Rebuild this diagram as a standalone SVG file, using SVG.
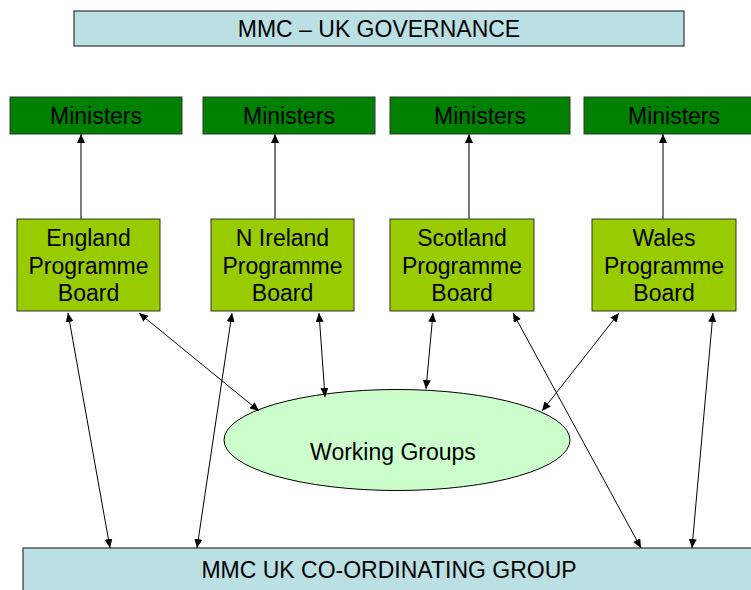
<svg xmlns="http://www.w3.org/2000/svg" width="751" height="590" viewBox="0 0 751 590">
  <style>
    .lbl { font-family: "Liberation Sans", Arial, sans-serif; font-size: 23px; fill: #000; text-anchor: middle; }
    .gov { fill: #BBE0E3; stroke: #333; stroke-width: 1.2; }
    .min { fill: #008000; stroke: #333; stroke-width: 1; }
    .board { fill: #99CC00; stroke: #333; stroke-width: 1; }
    .wg { fill: #CCFFCC; stroke: #000; stroke-width: 1; }
    .up { stroke: #444; stroke-width: 1.4; fill: none; marker-end: url(#head); }
    .both { stroke: #000; stroke-width: 1; fill: none; marker-start: url(#head); marker-end: url(#head); }
  </style>
  <defs>
    <marker id="head" markerUnits="userSpaceOnUse" markerWidth="10" markerHeight="8" refX="9" refY="4" orient="auto-start-reverse">
      <path d="M0,0 L9,4 L0,8 z" fill="#000"/>
    </marker>
  </defs>

  <rect width="751" height="590" fill="#fff"/>

  <g id="governance">
    <rect class="gov" x="74" y="11" width="610" height="35"/>
    <text class="lbl" x="379" y="37">MMC – UK GOVERNANCE</text>
  </g>

  <g id="ministers-england">
    <rect class="min" x="10" y="97" width="172" height="37"/>
    <text class="lbl" x="96" y="124">Ministers</text>
  </g>
  <g id="ministers-nireland">
    <rect class="min" x="203" y="97" width="172" height="37"/>
    <text class="lbl" x="289" y="124">Ministers</text>
  </g>
  <g id="ministers-scotland">
    <rect class="min" x="390" y="97" width="180" height="37"/>
    <text class="lbl" x="480" y="124">Ministers</text>
  </g>
  <g id="ministers-wales">
    <rect class="min" x="584" y="97" width="170" height="37"/>
    <text class="lbl" x="674" y="124">Ministers</text>
  </g>

  <g id="board-england">
    <rect class="board" x="17" y="219" width="143" height="92"/>
    <text class="lbl" x="88.5" y="246">England</text>
    <text class="lbl" x="88.5" y="274">Programme</text>
    <text class="lbl" x="88.5" y="301">Board</text>
  </g>
  <g id="board-nireland">
    <rect class="board" x="211" y="219" width="143" height="92"/>
    <text class="lbl" x="282.5" y="246">N Ireland</text>
    <text class="lbl" x="282.5" y="274">Programme</text>
    <text class="lbl" x="282.5" y="301">Board</text>
  </g>
  <g id="board-scotland">
    <rect class="board" x="390" y="219" width="144" height="92"/>
    <text class="lbl" x="462" y="246">Scotland</text>
    <text class="lbl" x="462" y="274">Programme</text>
    <text class="lbl" x="462" y="301">Board</text>
  </g>
  <g id="board-wales">
    <rect class="board" x="592" y="219" width="144" height="92"/>
    <text class="lbl" x="664" y="246">Wales</text>
    <text class="lbl" x="664" y="274">Programme</text>
    <text class="lbl" x="664" y="301">Board</text>
  </g>

  <g id="working-groups">
    <ellipse class="wg" cx="397" cy="440" rx="173" ry="50.5"/>
    <text class="lbl" x="393" y="460">Working Groups</text>
  </g>

  <g id="coordinating-group">
    <rect class="gov" x="23" y="548" width="740" height="50" stroke="#000"/>
    <text class="lbl" x="389" y="578">MMC UK CO-ORDINATING GROUP</text>
  </g>

  <g id="connectors">
    <!-- boards report up to ministers -->
    <line class="up" x1="81" y1="219" x2="81" y2="134"/>
    <line class="up" x1="275" y1="219" x2="275" y2="134"/>
    <line class="up" x1="469" y1="219" x2="469" y2="134"/>
    <line class="up" x1="663" y1="219" x2="663" y2="134"/>
    <!-- two-way links -->
    <line class="both" x1="68" y1="313" x2="110" y2="548"/>
    <line class="both" x1="139" y1="313" x2="259" y2="411"/>
    <line class="both" x1="232" y1="313" x2="197" y2="548"/>
    <line class="both" x1="319" y1="313" x2="325" y2="397"/>
    <line class="both" x1="433" y1="313" x2="426" y2="389"/>
    <line class="both" x1="513" y1="313" x2="641" y2="548"/>
    <line class="both" x1="619" y1="313" x2="542" y2="411"/>
    <line class="both" x1="713" y1="313" x2="692" y2="548"/>
  </g>
</svg>
